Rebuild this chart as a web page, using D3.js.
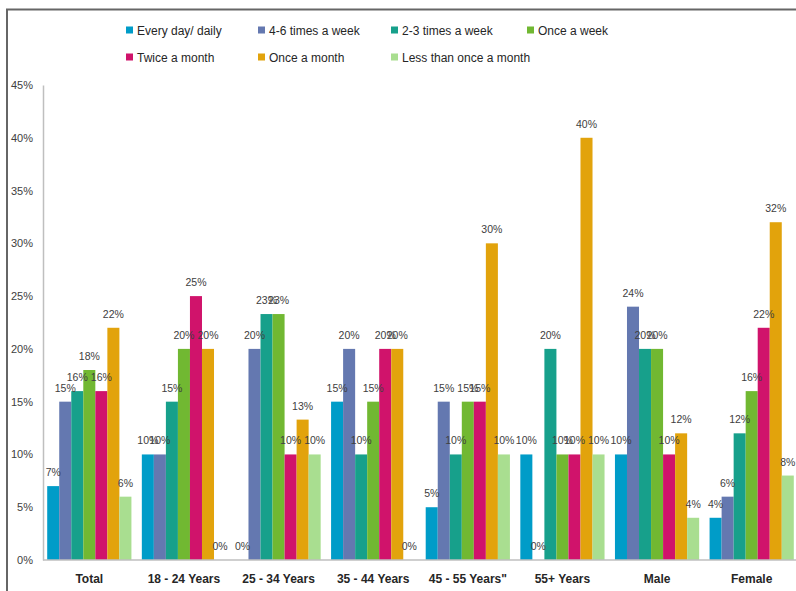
<!DOCTYPE html>
<html><head><meta charset="utf-8">
<script src="https://cdn.jsdelivr.net/npm/d3@7"></script>
<style>body{margin:0;background:#fff}svg{display:block}</style>
</head><body>
<svg id="c" width="796" height="591"></svg>
<script>
const categories = ["Total","18 - 24 Years","25 - 34 Years","35 - 44 Years","45 - 55 Years\"","55+ Years","Male","Female"];
const seriesNames = ["Every day/ daily","4-6 times a week","2-3 times a week","Once a week","Twice a month","Once a month","Less than once a month"];
const everyDay      = [7, 10, 0, 15, 5, 10, 10, 4];
const fourSix       = [15, 10, 20, 20, 15, 0, 24, 6];
const twoThree      = [16, 15, 23.3, 10, 10, 20, 20, 12];
const onceWeek      = [18, 20, 23.3, 15, 15, 10, 20, 16];
const twiceMonth    = [16, 25, 10, 20, 15, 10, 10, 22];
const onceMonth     = [22, 20, 13.3, 20, 30, 40, 12, 32];
const lessThanOnce  = [6, 0, 10, 0, 10, 10, 4, 8];
const yTicks = [0,5,10,15,20,25,30,35,40,45];
const colors = ["#009CC8","#6478B0","#17A08B","#71B832","#D0136B","#E2A30C","#A9DE90"];

const seriesValues = [everyDay, fourSix, twoThree, onceWeek, twiceMonth, onceMonth, lessThanOnce];
const svg = d3.select("#c");
const font = "'Liberation Sans',Arial,sans-serif";

// frame
svg.append("path").attr("d","M7,591 L7,9.5 L796,9.5").attr("fill","none").attr("stroke","#666").attr("stroke-width",2);

const x0 = d3.scaleBand().domain(categories).range([42,799]).paddingInner(0.11).paddingOuter(0.055);
const x1 = d3.scaleBand().domain(d3.range(seriesNames.length)).range([0,x0.bandwidth()]);
const y = d3.scaleLinear().domain([0,45]).range([560,85]);

// y axis
const yAxis = d3.axisLeft(y).tickValues(yTicks).tickFormat(d=>d+"%").tickSize(0).tickPadding(10);
const gy = svg.append("g").attr("transform","translate(43,0)").call(yAxis);
gy.select(".domain").attr("stroke","#BFBFBF").attr("stroke-width",1.5);
gy.selectAll("text").attr("font-family",font).attr("font-size",11).attr("fill","#404040");

// bars
const groups = svg.append("g").selectAll("g").data(categories).join("g")
  .attr("transform",d=>`translate(${x0(d)},0)`);
groups.each(function(cat,ci){
  const g = d3.select(this);
  const vals = seriesValues.map((s,si)=>({si, v:s[ci]}));
  g.selectAll("rect").data(vals).join("rect")
    .attr("x",d=>x1(d.si)).attr("width",x1.bandwidth())
    .attr("y",d=>y(d.v)).attr("height",d=>y(0)-y(d.v))
    .attr("fill",d=>colors[d.si]);
  g.selectAll("text").data(vals).join("text")
    .attr("x",d=>x1(d.si)+x1.bandwidth()/2).attr("y",d=>y(d.v)-10)
    .attr("text-anchor","middle").attr("font-family",font).attr("font-size",10.5).attr("fill","#404040")
    .text(d=>Math.round(d.v)+"%");
});

// x axis
const xAxis = d3.axisBottom(x0).tickSize(0).tickPadding(14);
const gx = svg.append("g").attr("transform","translate(0,560)").call(xAxis);
gx.select(".domain").attr("stroke","#BFBFBF").attr("stroke-width",1.5).attr("d","M43,0H799");
gx.selectAll("text").attr("font-family",font).attr("font-size",12).attr("font-weight","bold").attr("fill","#262626");

// legend
const legendX = [126,258,391,527];
const legendY = [30,57];
const leg = svg.append("g").selectAll("g").data(seriesNames).join("g")
  .attr("transform",(d,i)=>`translate(${legendX[i%4]},${legendY[Math.floor(i/4)]})`);
leg.append("rect").attr("x",0).attr("y",-3.5).attr("width",7).attr("height",7).attr("fill",(d,i)=>colors[i]);
leg.append("text").attr("x",11).attr("y",4.5).attr("font-family",font).attr("font-size",12).attr("fill","#262626").text(d=>d);
</script>
</body></html>
